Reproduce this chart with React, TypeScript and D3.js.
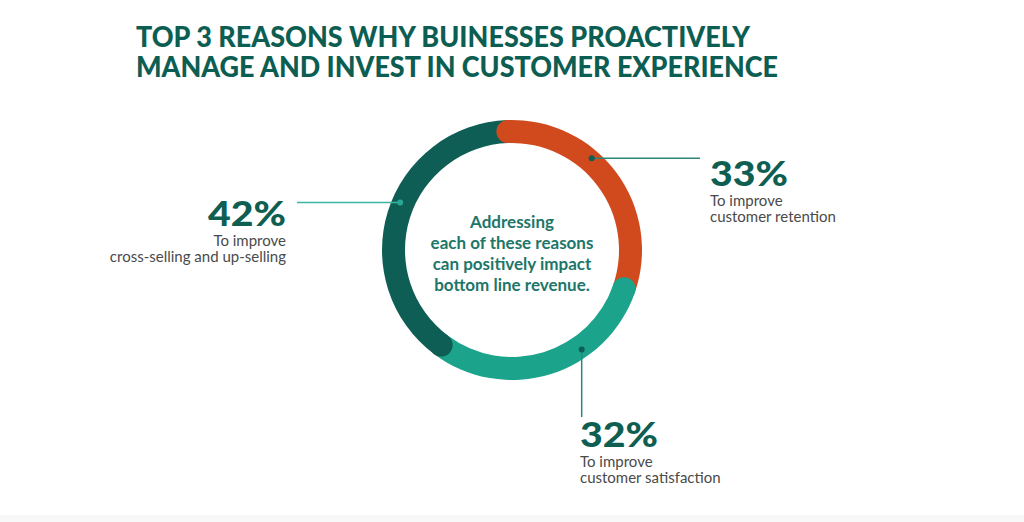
import React from "react";
import * as d3 from "d3";

const categories = ["To improve customer retention", "To improve customer satisfaction", "To improve cross-selling and up-selling"];
const values = [33, 32, 42];
const percentLabels = ["33%", "32%", "42%"];
const subLines = [["To improve", "customer retention"], ["To improve", "customer satisfaction"], ["To improve", "cross-selling and up-selling"]];
const colors = ["#d04a1e", "#1ba48b", "#0e5e55"];
const titleLines = ["TOP 3 REASONS WHY BUINESSES PROACTIVELY", "MANAGE AND INVEST IN CUSTOMER EXPERIENCE"];
const centerLines = ["Addressing", "each of these reasons", "can positively impact", "bottom line revenue."];

const W = 1024, H = 522;
const cx = 512, cy = 250;
const rOuter = 130, rInner = 107;
const rMid = (rOuter + rInner) / 2;
const deg = Math.PI / 180;

// annotation layout: dot angle (deg), dot color, line color, label anchor
const annots = [
  { angle: 41, dot: "#0e5e55", line: "#2c857a", kind: "right", lineEnd: 700, tx: 710, ty: 186, anchor: "start" },
  { angle: 145, dot: "#0e5e55", line: "#2c857a", kind: "down", lineEnd: 417, tx: 580, ty: 447, anchor: "start" },
  { angle: 293, dot: "#2aa893", line: "#3cb6a2", kind: "left", lineEnd: 297, tx: 286, ty: 226, anchor: "end" },
];

export default function App() {
  const pie = d3.pie<number>().sort(null).value((d) => d).startAngle(-2 * deg).endAngle(358 * deg);
  const arcs = pie(values);
  const arcGen = d3.arc<d3.PieArcDatum<number>>().innerRadius(rInner).outerRadius(rOuter);
  const pt = (a: number, r: number) => [Math.sin(a) * r, -Math.cos(a) * r];

  return (
    <svg width={W} height={H} style={{ position: "absolute", left: 0, top: 0, background: "#fff" }}>
      <rect x={0} y={0} width={W} height={H} fill="#fff" />
      <rect x={0} y={515} width={W} height={7} fill="#f8f8f8" />
      {titleLines.map((t, i) => (
        <text key={i} x={136} y={47 + i * 30} fill="#0d5e52" fontFamily="Lato" fontWeight={900} fontSize={29}
          textLength={i === 0 ? 614 : 642} lengthAdjust="spacingAndGlyphs">{t}</text>
      ))}
      <g transform={`translate(${cx},${cy})`}>
        {arcs.map((a, i) => (
          <path key={"a" + i} d={arcGen(a) || ""} fill={colors[i]} />
        ))}
        {arcs.map((a, i) => {
          const [x, y] = pt(a.startAngle, rMid);
          return <circle key={"c" + i} cx={x} cy={y} r={(rOuter - rInner) / 2} fill={colors[i]} />;
        })}
        {centerLines.map((t, i) => (
          <text key={"t" + i} x={0} y={-22 + i * 21} textAnchor="middle" fill="#1d7669" fontFamily="Lato" fontWeight={700} fontSize={17}>{t}</text>
        ))}
      </g>
      {annots.map((an, i) => {
        const [dx, dy] = pt(an.angle * deg, rMid + 3);
        const x0 = cx + dx, y0 = cy + dy;
        const x1 = an.kind === "down" ? x0 : an.lineEnd;
        const y1 = an.kind === "down" ? an.lineEnd : y0;
        return (
          <g key={"an" + i}>
            <line x1={x0} y1={y0} x2={x1} y2={y1} stroke={an.line} strokeWidth={1.5} />
            <circle cx={x0} cy={y0} r={3} fill={an.dot} />
            <text x={an.tx} y={an.ty} textAnchor={an.anchor} fill="#0e5e52" fontFamily="Lato" fontWeight={900} fontSize={35}
              textLength={78} lengthAdjust="spacingAndGlyphs">{percentLabels[i]}</text>
            {subLines[i].map((s, j) => (
              <text key={j} x={an.tx} y={an.ty + 20 + j * 16} textAnchor={an.anchor} fill="#4a4a4a" fontFamily="Lato" fontSize={15}>{s}</text>
            ))}
          </g>
        );
      })}
    </svg>
  );
}
